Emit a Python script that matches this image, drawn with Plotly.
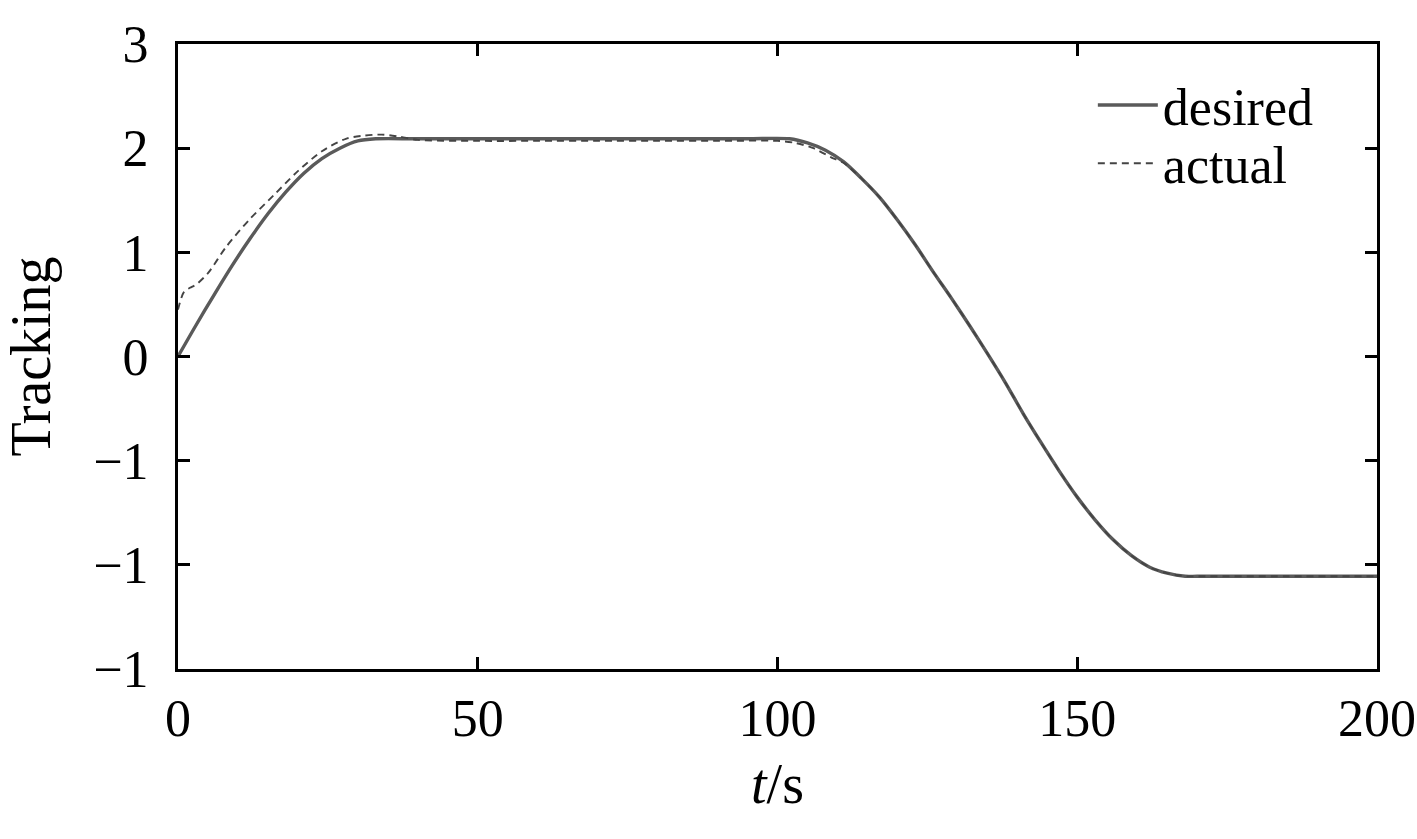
import plotly.graph_objects as go

# desired trajectory
t_desired = [0, 3, 6, 9, 12, 15, 18, 21, 24, 27, 30, 33, 40, 60, 80, 95, 102, 105, 108, 111,
             114, 117, 120, 123, 126, 129, 132, 135, 138, 141, 144, 147, 150, 153, 156, 159,
             162, 165, 168, 170, 185, 200]
y_desired = [0.00, 0.30, 0.59, 0.87, 1.13, 1.37, 1.58, 1.76, 1.90, 2.00, 2.07, 2.09, 2.09, 2.09,
             2.09, 2.09, 2.09, 2.05, 1.98, 1.87, 1.71, 1.53, 1.31, 1.07, 0.81, 0.56, 0.30, 0.03,
             -0.25, -0.55, -0.83, -1.10, -1.35, -1.57, -1.76, -1.91, -2.02, -2.08, -2.11,
             -2.11, -2.11, -2.11]

# actual trajectory
t_actual = [0, 1, 2, 3, 5, 8, 12, 16, 20, 24, 28, 31, 34, 37, 40, 50, 60, 70, 80, 90, 100,
            103, 106, 109, 111, 114, 117, 120, 123, 126, 129, 132, 135, 138, 141, 144, 147,
            150, 153, 156, 159, 162, 165, 168, 170, 185, 200]
y_actual = [0.45, 0.62, 0.66, 0.69, 0.80, 1.05, 1.32, 1.55, 1.78, 1.97, 2.09, 2.12, 2.13, 2.11,
            2.08, 2.07, 2.07, 2.07, 2.07, 2.07, 2.07, 2.05, 2.00, 1.91, 1.86, 1.71, 1.53,
            1.31, 1.07, 0.81, 0.56, 0.30, 0.03, -0.25, -0.55, -0.83, -1.10, -1.35, -1.57,
            -1.76, -1.91, -2.02, -2.08, -2.11, -2.11, -2.11, -2.11]

y_tickvals = [3, 2, 1, 0, -1, -2, -3]
y_ticktext = ["3", "2", "1", "0", "\u22121", "\u22121", "\u22121"]
x_tickvals = [0, 50, 100, 150, 200]

font_name = "Liberation Serif"

fig = go.Figure()
fig.add_trace(go.Scatter(x=t_desired, y=y_desired, mode='lines', name='desired', legend='legend',
                         line=dict(color='#5a5a5a', width=3.4, shape='spline', smoothing=0.8)))
fig.add_trace(go.Scatter(x=t_actual, y=y_actual, mode='lines', name='actual', legend='legend2',
                         line=dict(color='#444444', width=1.9, dash='7px,5px', shape='spline', smoothing=0.8)))

legend_style = dict(xanchor='left', yanchor='middle', bgcolor='rgba(0,0,0,0)',
                    font=dict(size=52), itemwidth=60)

fig.update_layout(
    width=1417, height=839,
    margin=dict(l=178, r=40, t=44, b=170, autoexpand=False),
    paper_bgcolor='white', plot_bgcolor='white',
    font=dict(family=font_name, size=52, color='black'),
    showlegend=True,
    legend=dict(x=0.763, y=0.902, **legend_style),
    legend2=dict(x=0.763, y=0.809, **legend_style),
)
fig.update_xaxes(
    range=[0, 200], tickvals=x_tickvals, ticks='inside', ticklen=12, tickwidth=3,
    tickcolor='black', showline=True, linecolor='black', linewidth=3, mirror='ticks',
    showgrid=False, zeroline=False, ticklabelstandoff=2, automargin=False,
    title=dict(text='<i>t</i>/s', font=dict(size=56), standoff=18),
)
fig.update_yaxes(
    range=[-3, 3], tickvals=y_tickvals, ticktext=y_ticktext, ticks='inside', ticklen=12,
    tickwidth=3, tickcolor='black', showline=True, linecolor='black', linewidth=3,
    mirror='ticks', showgrid=False, zeroline=False, ticklabelstandoff=16, automargin=False,
    title=dict(text='Tracking', font=dict(size=56), standoff=28),
)

# drop the default page margin so the figure fills the window exactly
fig.write_html("out.html", config={'displayModeBar': False},
               post_script="document.body.style.margin='0';document.body.style.overflow='hidden';")
